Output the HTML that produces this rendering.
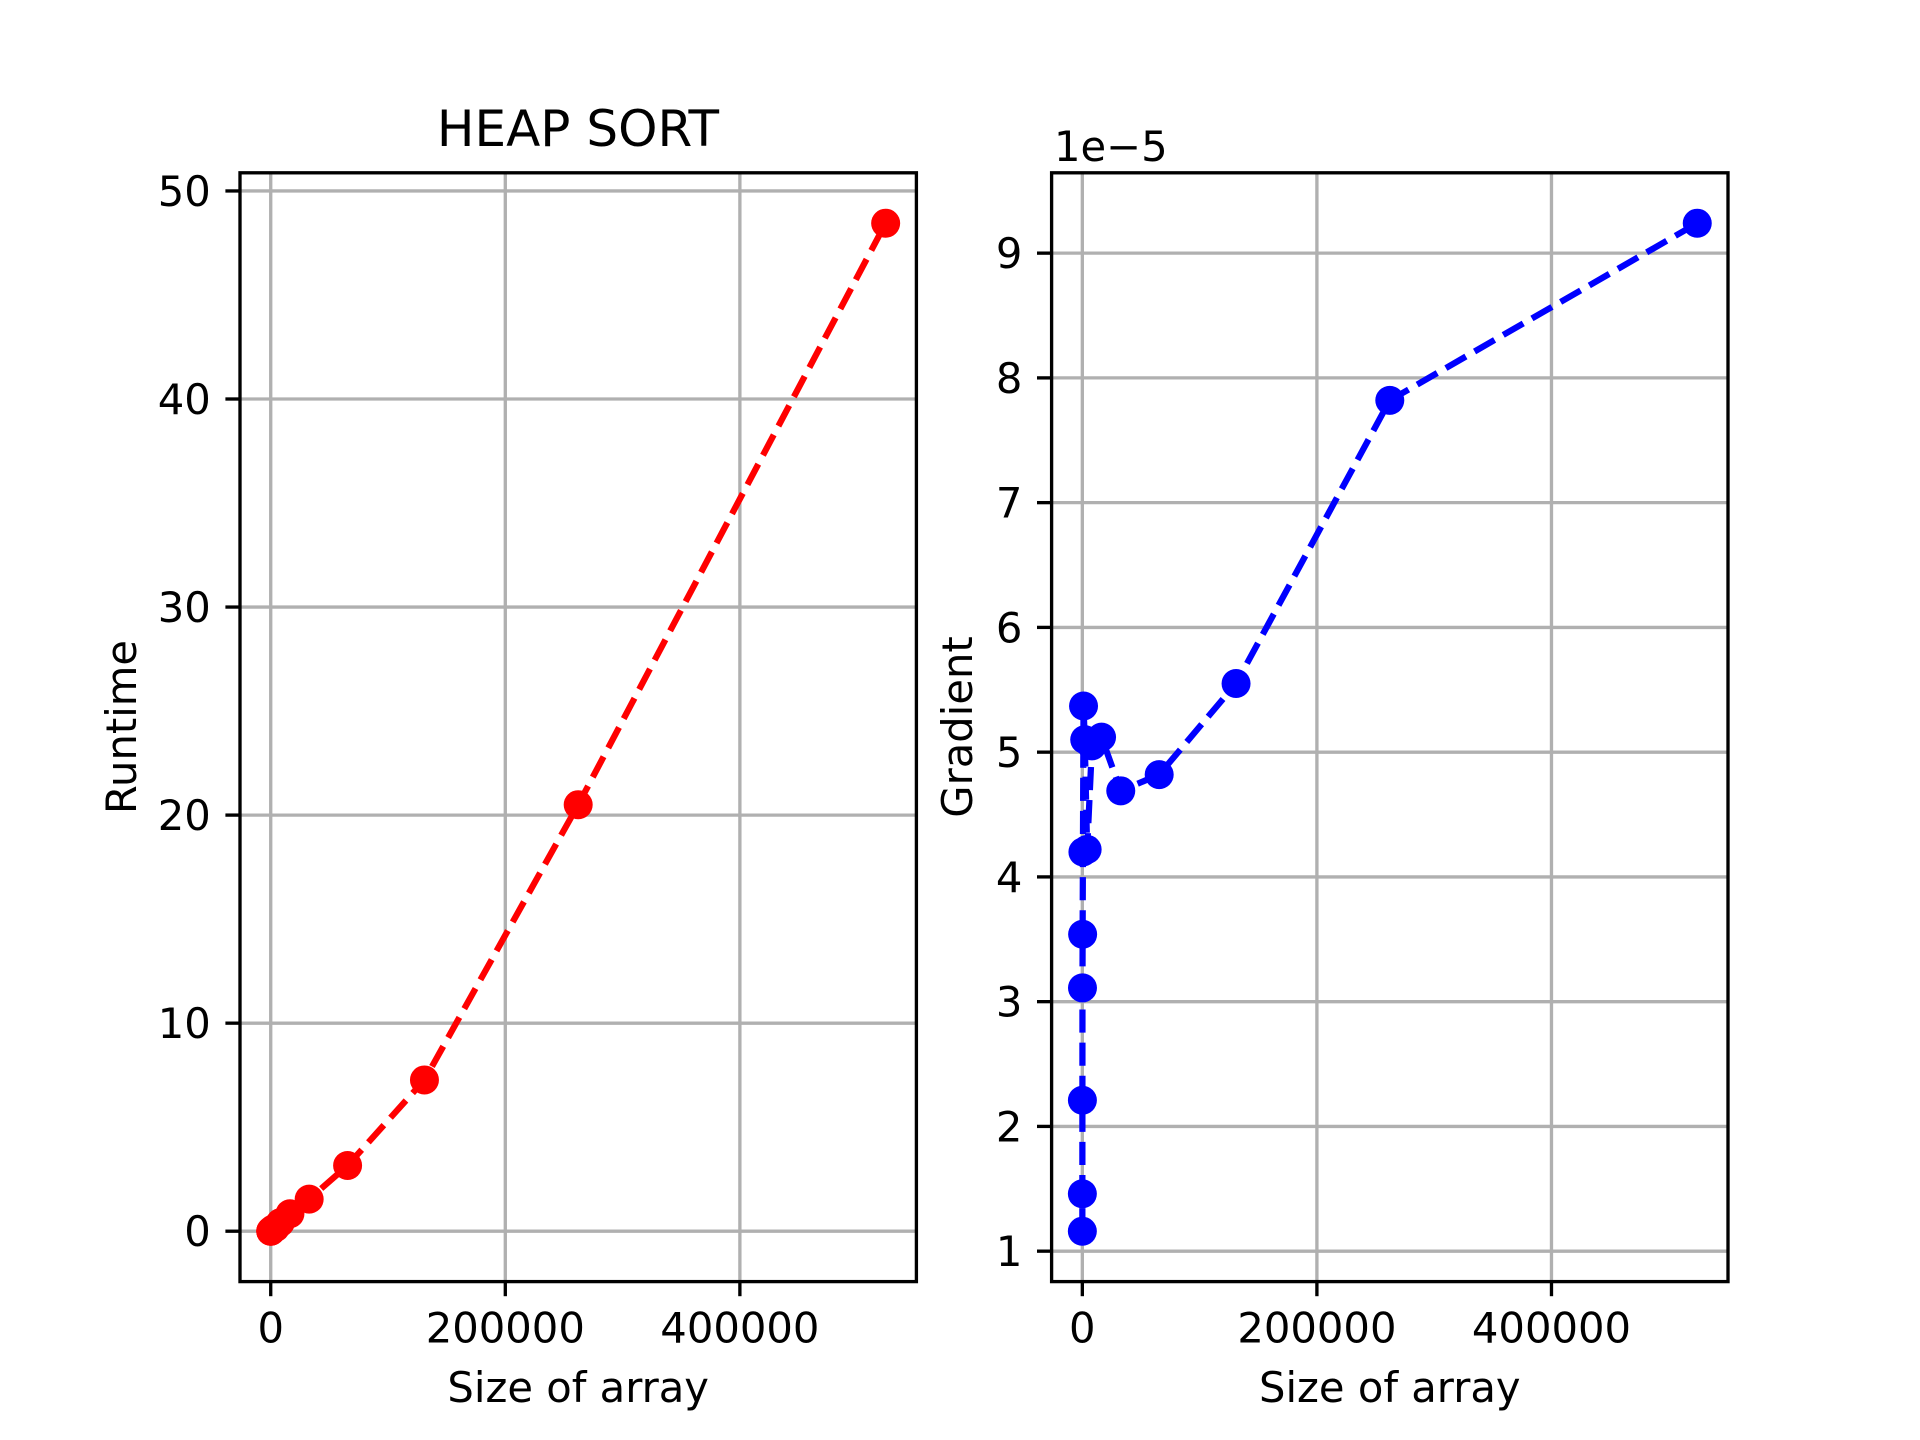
<!DOCTYPE html>
<html><head><meta charset="utf-8"><style>
html,body{margin:0;padding:0;background:#fff;}
svg{display:block;font-family:"DejaVu Sans","Liberation Sans",sans-serif;}
</style></head><body>
<svg id="fig" width="1920" height="1440" viewBox="0 0 1920 1440" xmlns="http://www.w3.org/2000/svg">
<rect width="1920" height="1440" fill="#fff"/>
</svg>
<script>
const sizes = [16,32,64,128,256,512,1024,2048,4096,8192,16384,32768,65536,131072,262144,524288];
const runtimeValues = [0.0002,0.0005,0.0014,0.004,0.009,0.0215,0.055,0.104,0.173,0.414,0.839,1.54,3.16,7.27,20.5,48.45];
const gradientValues = [1.16,1.46,2.21,3.11,3.54,4.2,5.37,5.1,4.22,5.05,5.12,4.69,4.82,5.55,7.82,9.24];
const xTicks = [0,200000,400000];
const xTickLabels = ["0","200000","400000"];
const runtimeTicks = [0,10,20,30,40,50];
const runtimeTickLabels = ["0","10","20","30","40","50"];
const gradientTicks = [1,2,3,4,5,6,7,8,9];
const gradientTickLabels = ["1","2","3","4","5","6","7","8","9"];

const NS = "http://www.w3.org/2000/svg";
const svg = document.getElementById('fig');
function mk(tag, attrs, parent){
  const e = document.createElementNS(NS, tag);
  for (const k in attrs) e.setAttribute(k, attrs[k]);
  (parent||svg).appendChild(e);
  return e;
}
function ext(arr){
  const mn = Math.min(...arr), mx = Math.max(...arr), m = (mx-mn)*0.05;
  return [mn-m, mx+m];
}
const TOP = 172.8, BOT = 1281.6, W = 676.4;
function panel(x0, ys, color, yticks, ylabels, ytitle, prefix){
  const g = mk('g', {});
  
  
  const [xmn, xmx] = ext(sizes);
  const [ymn, ymx] = ext(ys);
  const sx = v => x0 + (v - xmn) / (xmx - xmn) * W;
  const sy = v => BOT - (v - ymn) / (ymx - ymn) * (BOT - TOP);
  xTicks.forEach((t, i) => {
    const l = mk('line', {x1:sx(t), x2:sx(t), y1:TOP, y2:BOT, stroke:'#b0b0b0', 'stroke-width':3.33}, g);
    
    
    const tk = mk('line', {x1:sx(t), x2:sx(t), y1:BOT, y2:BOT+14.6, stroke:'#000', 'stroke-width':3.33}, g);
    
    
    const tx = mk('text', {x:sx(t), y:BOT+61, 'font-size':41.7, 'text-anchor':'middle', fill:'#000'}, g);
    tx.textContent = xTickLabels[i];
    
    
  });
  yticks.forEach((t, i) => {
    const l = mk('line', {x1:x0, x2:x0+W, y1:sy(t), y2:sy(t), stroke:'#b0b0b0', 'stroke-width':3.33}, g);
    
    
    const tk = mk('line', {x1:x0-14.6, x2:x0, y1:sy(t), y2:sy(t), stroke:'#000', 'stroke-width':3.33}, g);
    
    
    const tx = mk('text', {x:x0-29.2, y:sy(t)+15, 'font-size':41.7, 'text-anchor':'end', fill:'#000'}, g);
    tx.textContent = ylabels[i];
    
    
  });
  const pts = sizes.map((s, i) => sx(s) + ',' + sy(ys[i])).join(' ');
  const pl = mk('polyline', {points:pts, fill:'none', stroke:color, 'stroke-width':6.25, 'stroke-dasharray':'23.1 10', 'stroke-linejoin':'round'}, g);
  
  
  sizes.forEach((s, i) => {
    const c = mk('circle', {cx:sx(s), cy:sy(ys[i]), r:14.5, fill:color}, g);
    
    
  });
  const fr = mk('rect', {x:x0, y:TOP, width:W, height:BOT-TOP, fill:'none', stroke:'#000', 'stroke-width':3.33}, g);
  
  
  const xl = mk('text', {x:x0+W/2, y:1402, 'font-size':41.7, 'text-anchor':'middle', fill:'#000'}, g);
  xl.textContent = 'Size of array';
  
  
  return {g, sx, sy};
}
const L = panel(240, runtimeValues, '#ff0000', runtimeTicks, runtimeTickLabels, 'Runtime', 'runtime');
const yl1 = mk('text', {x:0, y:0, 'font-size':41.7, 'text-anchor':'middle', fill:'#000', transform:'translate(136,727) rotate(-90)'});
yl1.textContent = 'Runtime';


const tt = mk('text', {x:578, y:146, 'font-size':50, 'text-anchor':'middle', fill:'#000'});
tt.textContent = 'HEAP SORT';



const R = panel(1051.6, gradientValues, '#0000ff', gradientTicks, gradientTickLabels, 'Gradient', 'gradient');
const yl2 = mk('text', {x:0, y:0, 'font-size':41.7, 'text-anchor':'middle', fill:'#000', transform:'translate(972,727) rotate(-90)'});
yl2.textContent = 'Gradient';


const off = mk('text', {x:1054, y:161, 'font-size':41.7, fill:'#000'});
off.textContent = '1e\u22125';


</script>
</body></html>
